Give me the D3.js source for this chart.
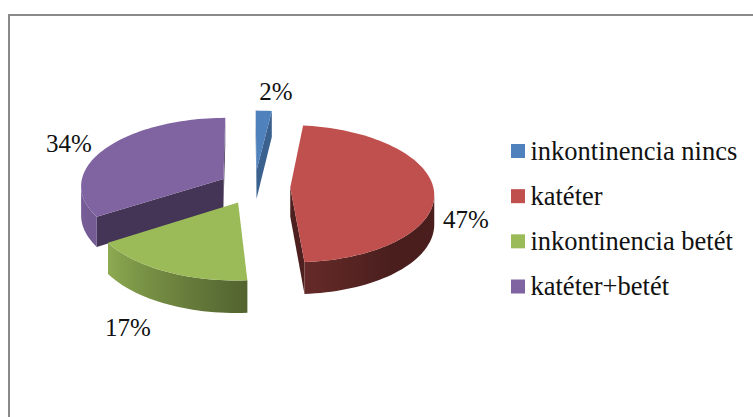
<!DOCTYPE html>
<html><head><meta charset="utf-8">
<script src="https://cdn.jsdelivr.net/npm/d3@7/dist/d3.min.js"></script>
<style>html,body{margin:0;padding:0;background:#fff}svg{display:block}text{font-family:"Liberation Serif",serif;fill:#111}</style>
</head><body><script>
const categories=["inkontinencia nincs","katéter","inkontinencia betét","katéter+betét"];
const values=[2,47,17,34];
const colors=["#4f81bd","#c0504d","#9bbb59","#8064a2"];

const W=753,H=417;
const svg=d3.select("body").append("svg").attr("width",W).attr("height",H);
const defs=svg.append("defs");
svg.append("path").attr("d",`M9,${H}V15H${W}`).attr("fill","none").attr("stroke","#8a8a8a").attr("stroke-width",2);

// 3D projection
const cx=254.5,cy=187,R=143,Ry=68,k=0.09,D=29,explode=0.25;
const rotation=-0.3*Math.PI/180;
const dir=t=>[Math.sin(t),Math.cos(t)];
const project=(u,v,h)=>{const s=1/(1+k*v);return [cx+R*u*s,cy-Ry*v*s+(h?D*s:0)];};
const line=d3.line();
const area=p=>d3.polygonArea(p);
const shadeScale=d3.scaleLinear().domain([90,140,175,235,270,360]).range([.38,.38,.52,.9,.95,.95]).clamp(true);
const mul=(c,f)=>{const x=d3.rgb(c);return d3.rgb(x.r*f,x.g*f,x.b*f).formatHex();};

const arcs=d3.pie().sort(null).startAngle(rotation).endAngle(rotation+2*Math.PI)(values);
const cutShade=[.75,.4,.5,.53];
const order=[0,1,3,2];
const g=svg.append("g");

order.forEach(i=>{
  const a=arcs[i],col=colors[i];
  const mid=(a.startAngle+a.endAngle)/2,[ex,ey]=dir(mid);
  const off=explode;
  const pt=(t,h)=>{const [u,v]=dir(t);return project(ex*off+u,ey*off+v,h);};
  const apex=h=>project(ex*off,ey*off,h);
  const n=Math.max(3,Math.ceil((a.endAngle-a.startAngle)*180/Math.PI/2));
  const ts=d3.range(n+1).map(j=>a.startAngle+(a.endAngle-a.startAngle)*j/n);
  // Cut faces (drawn when they face the viewer)
  [[a.startAngle,1],[a.endAngle,-1]].forEach(([t,sign])=>{
    const q=[apex(0),pt(t,0),pt(t,1),apex(1)];
    if(area(q)*sign>0){
      g.append("path").attr("d",line(q)+"Z").attr("fill",mul(col,cutShade[i]));
    }
  });
  // Outer wall: the visible stretch of the rim, filled with a horizontal gradient
  const vis=d3.pairs(ts).filter(([t0,t1])=>area([pt(t0,0),pt(t1,0),pt(t1,1),pt(t0,1)])>0);
  if(vis.length){
    const rim=[vis[0][0],...vis.map(p=>p[1])];
    const top=rim.map(t=>pt(t,0)),bot=rim.map(t=>pt(t,1));
    const xs=top.map(p=>p[0]),x0=d3.min(xs),x1=d3.max(xs);
    const grad=defs.append("linearGradient").attr("id","wall"+i).attr("gradientUnits","userSpaceOnUse")
      .attr("x1",x0).attr("x2",x1).attr("y1",0).attr("y2",0);
    const stops=rim.map((t,j)=>({o:(xs[j]-x0)/((x1-x0)||1),c:mul(col,shadeScale(((t*180/Math.PI)+360)%360))})).sort((p,q)=>p.o-q.o);
    grad.selectAll("stop").data(stops).join("stop").attr("offset",d=>d.o).attr("stop-color",d=>d.c);
    g.append("path").attr("d",line([...top,...bot.reverse()])+"Z").attr("fill",`url(#wall${i})`);
  }
  // Top face
  g.append("path").attr("d",line([apex(0),...ts.map(t=>pt(t,0))])+"Z").attr("fill",col);
});

// Data labels
const labelAnchor=[[276,100],[466,228],[128,336],[69,152]];
svg.selectAll("text.lab").data(values).join("text").attr("class","lab")
  .attr("x",(d,i)=>labelAnchor[i][0]).attr("y",(d,i)=>labelAnchor[i][1])
  .attr("text-anchor","middle").attr("font-size",25).text(d=>d+"%");

// Legend
const ly=d3.scalePoint().domain(categories).range([159.5,295]);
const leg=svg.selectAll("g.leg").data(categories).join("g").attr("class","leg");
leg.append("rect").attr("x",511).attr("y",d=>ly(d)-15.5).attr("width",14).attr("height",14).attr("fill",(d,i)=>colors[i]);
leg.append("text").attr("x",530.5).attr("y",d=>ly(d)).attr("font-size",26.5).text(d=>d);
</script></body></html>
